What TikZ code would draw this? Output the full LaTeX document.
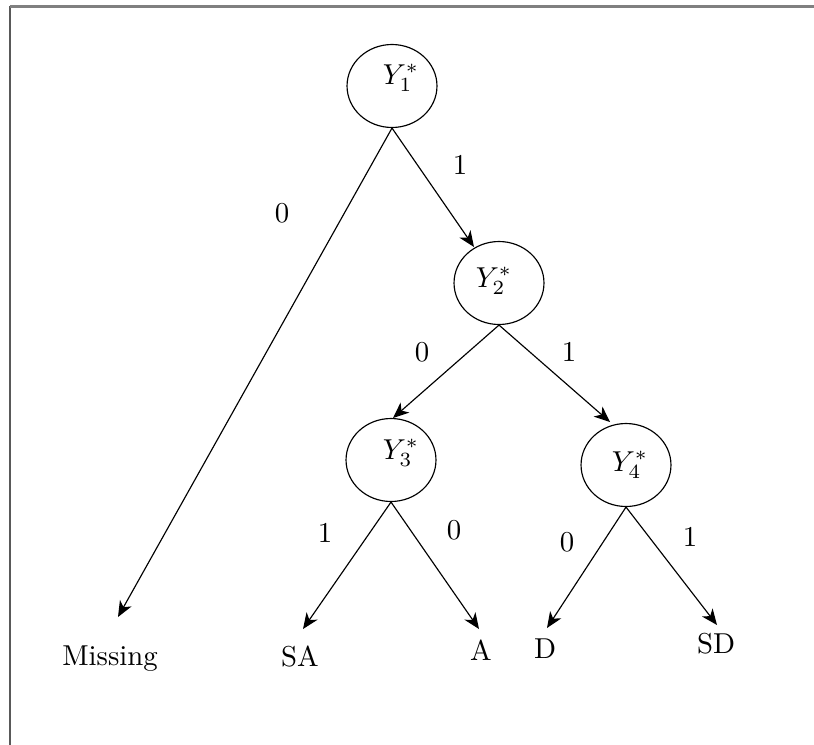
\documentclass[tikz,border=0pt]{standalone}
\usetikzlibrary{arrows.meta,shapes.geometric}
\begin{document}
\begin{tikzpicture}[x=0.0122cm,y=-0.0122cm,
  state/.style={draw,ellipse,line width=0.4pt,inner sep=0pt,minimum width=1.098cm,minimum height=1.013cm},
  arr/.style={-{Stealth[length=5.5pt,width=4.6pt,inset=1.6pt]},line width=0.4pt},
  lbl/.style={inner sep=0pt},
  leaf/.style={inner sep=0pt,anchor=base},
  frametop/.style={draw=black!50,line width=0.75pt},
  frameleft/.style={draw=black!65,line width=0.75pt}]
\useasboundingbox (0,0) rectangle (814,744);
\coordinate (fl) at (9.8,760);
\coordinate (ftl) at (9.8,6.5);
\coordinate (fr) at (830,6.5);
\draw[frameleft] (fl) -- (ftl);
\draw[frametop] (ftl) -- (fr);
% states
\node[state] (Y1) at (392,86) {};
\node[state] (Y2) at (499,283) {};
\node[state] (Y3) at (391,460) {};
\node[state] (Y4) at (626,465) {};
\node[lbl] (t1) at (401,78) {$Y_1^*$};
\node[lbl] (t2) at (494,281) {$Y_2^*$};
\node[lbl] (t3) at (401,453) {$Y_3^*$};
\node[lbl] (t4) at (630,465) {$Y_4^*$};
% leaves
\node[leaf] (miss) at (110,665) {Missing};
\node[leaf] (sa) at (300,666) {SA};
\node[leaf] (a) at (481,660) {A};
\node[leaf] (d) at (545,658) {D};
\node[leaf] (sd) at (716,653) {SD};
% arrow tips
\coordinate (pMiss) at (118,617);
\coordinate (pY2) at (474,247);
\coordinate (pY3) at (393,418);
\coordinate (pY4) at (610,422);
\coordinate (pSA) at (303,629);
\coordinate (pA) at (479,629);
\coordinate (pD) at (547,628);
\coordinate (pSD) at (717,625);
\draw[arr] (Y1.south) -- (pMiss);
\draw[arr] (Y1.south) -- (pY2);
\draw[arr] (Y2.south) -- (pY3);
\draw[arr] (Y2.south) -- (pY4);
\draw[arr] (Y3.south) -- (pSA);
\draw[arr] (Y3.south) -- (pA);
\draw[arr] (Y4.south) -- (pD);
\draw[arr] (Y4.south) -- (pSD);
% edge labels
\node[lbl] (l1) at (282,213) {0};
\node[lbl] (l2) at (460,165) {1};
\node[lbl] (l3) at (422,352) {0};
\node[lbl] (l4) at (569,352) {1};
\node[lbl] (l5) at (325,533) {1};
\node[lbl] (l6) at (454,530) {0};
\node[lbl] (l7) at (567,542) {0};
\node[lbl] (l8) at (690,537) {1};
\end{tikzpicture}
\end{document}
